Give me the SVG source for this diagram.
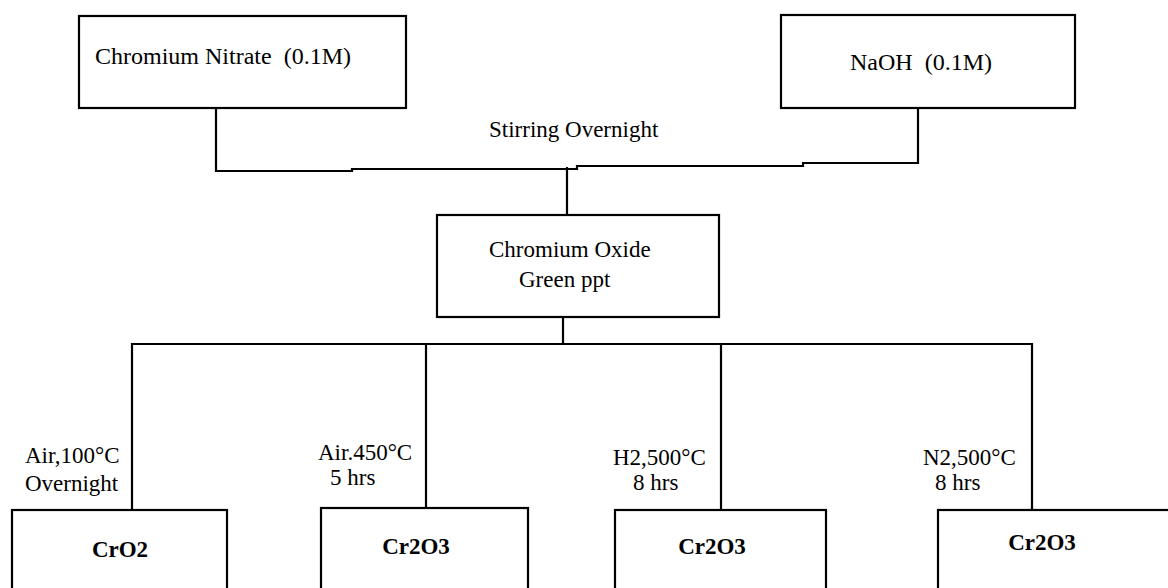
<svg xmlns="http://www.w3.org/2000/svg" width="1168" height="588" viewBox="0 0 1168 588">
<style>
.box{fill:#fff;stroke:#000;stroke-width:2.2}
.ln{fill:none;stroke:#000;stroke-width:2.2}
text{font-family:"Liberation Serif","Times New Roman",serif;font-size:23px;fill:#000}
.t{font-size:24px}
.b{font-weight:bold}
.m{text-anchor:middle}
</style>
<rect width="1168" height="588" fill="#fff"/>
<g id="connectors">
<path class="ln" d="M216,108 V171 H352 V169 H577 V166 H803 V163 H918 V108"/>
<path class="ln" d="M567,167 V215"/>
<path class="ln" d="M563,317 V344"/>
<path class="ln" d="M132,510 V344 H1032 V510"/>
<path class="ln" d="M426,344 V508"/>
<path class="ln" d="M721,344 V510"/>
</g>
<g id="chromium-nitrate">
<rect class="box" x="79" y="16" width="327" height="92"/>
<text class="t" x="95" y="64" xml:space="preserve">Chromium Nitrate  (0.1M)</text>
</g>
<g id="naoh">
<rect class="box" x="781" y="15" width="294" height="93"/>
<text class="t" x="850" y="70" xml:space="preserve">NaOH  (0.1M)</text>
</g>
<g id="stirring-label">
<text x="489" y="137">Stirring Overnight</text>
</g>
<g id="chromium-oxide">
<rect class="box" x="437" y="215" width="282" height="102"/>
<text x="489" y="257">Chromium Oxide</text>
<text x="519" y="287">Green ppt</text>
</g>
<g id="cro2">
<rect class="box" x="12" y="510" width="215" height="100"/>
<text class="b m" x="120" y="557">CrO2</text>
<text x="25" y="463">Air,100°C</text>
<text x="25" y="491">Overnight</text>
</g>
<g id="cr2o3-air">
<rect class="box" x="321" y="508" width="207" height="100"/>
<text class="b m" x="416" y="554">Cr2O3</text>
<text x="318" y="460">Air.450°C</text>
<text x="330" y="485">5 hrs</text>
</g>
<g id="cr2o3-h2">
<rect class="box" x="615" y="510" width="211" height="100"/>
<text class="b m" x="712" y="554">Cr2O3</text>
<text x="613" y="465">H2,500°C</text>
<text x="633" y="490">8 hrs</text>
</g>
<g id="cr2o3-n2">
<rect class="box" x="938" y="510" width="240" height="100"/>
<text class="b m" x="1042" y="550">Cr2O3</text>
<text x="923" y="465">N2,500°C</text>
<text x="935" y="490">8 hrs</text>
</g>
</svg>
